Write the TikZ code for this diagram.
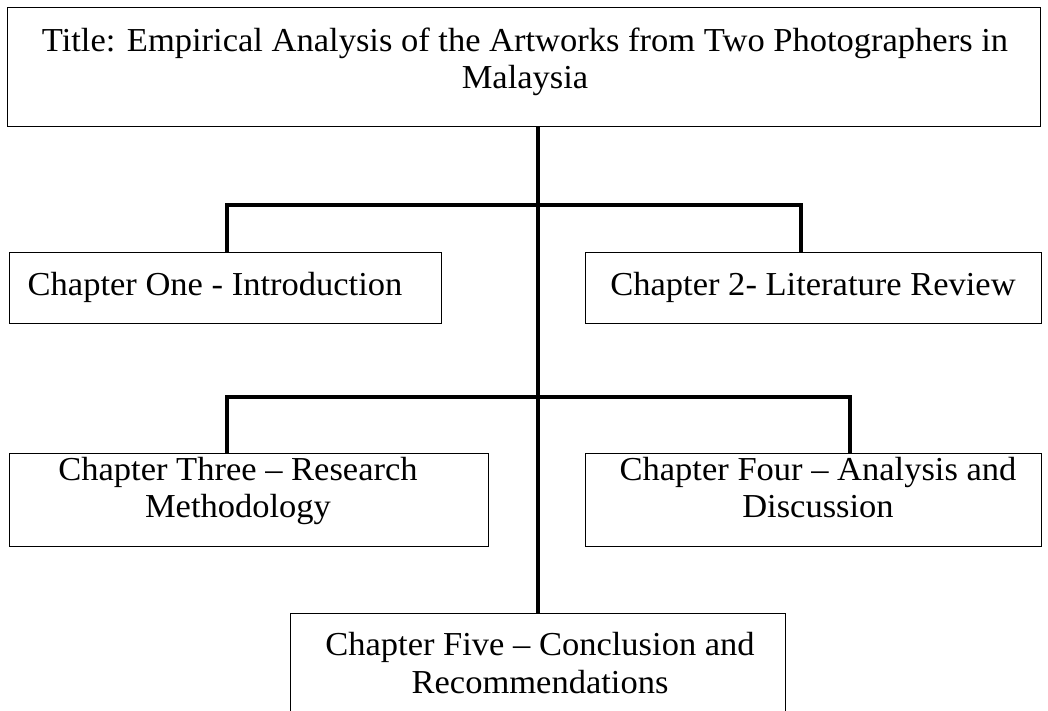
\documentclass[tikz,border=0pt]{standalone}
\usepackage{fontspec}
\setmainfont{Liberation Serif}[FakeStretch=1.03]
\begin{document}
\begin{tikzpicture}[x=1pt,y=-1pt,
  box/.style={draw, line width=1.2pt, inner sep=0pt, anchor=north west},
  txt/.style={font=\fontsize{33.5}{37.5}\selectfont, align=center, inner sep=0pt, anchor=north},
  conn/.style={line width=4pt, line join=miter}]
\useasboundingbox (0,0) rectangle (1048,711);
% boxes
\node[box, minimum width=1033pt, minimum height=119pt] (title) at (7,7) {};
\node[box, minimum width=432pt, minimum height=71pt] (one) at (9,252) {};
\node[box, minimum width=456pt, minimum height=71pt] (two) at (585,252) {};
\node[box, minimum width=479pt, minimum height=93pt] (three) at (9,453) {};
\node[box, minimum width=456pt, minimum height=93pt] (four) at (585,453) {};
\node[box, minimum width=495pt, minimum height=110pt] (five) at (290,613) {};
% texts
\node[txt] (titletxt) at (525,27.5) {Title: Empirical Analysis of the Artworks from Two Photographers in\\Malaysia};
\node[txt] (onetxt) at (215,272.5) {Chapter One - Introduction};
\node[txt] (twotxt) at (813,272.5) {Chapter 2- Literature Review};
\node[txt] (threetxt) at (238,457) {Chapter Three – Research\\Methodology};
\node[txt] (fourtxt) at (818,457) {Chapter Four – Analysis and\\Discussion};
\node[txt] (fivetxt) at (540,632.5) {Chapter Five – Conclusion and\\Recommendations};
% connectors
\coordinate (j1) at (538,205);
\coordinate (j2) at (538,397);
\coordinate (d2) at (801,252);
\coordinate (d4) at (850,453);
\coordinate (d1) at (227,252);
\coordinate (d3) at (227,453);
\draw[conn] (title.south -| five.north) -- (five.north);
\draw[conn] (d1) -- (d1 |- j1) -- (d2 |- j1) -- (d2);
\draw[conn] (d3) -- (d3 |- j2) -- (d4 |- j2) -- (d4);
\end{tikzpicture}
\end{document}
